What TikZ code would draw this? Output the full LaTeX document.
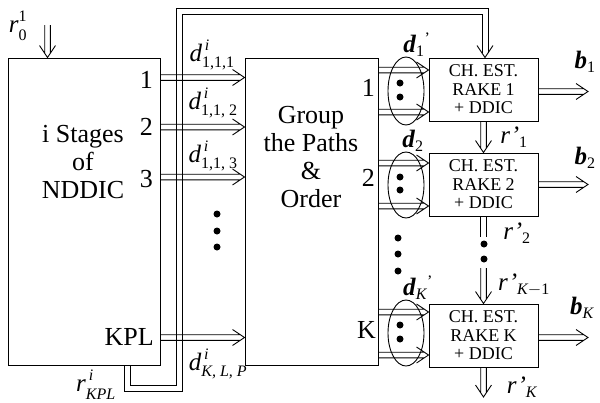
\documentclass[tikz,border=0pt]{standalone}
\usepackage{amsmath}
\usepackage{fontspec}
\setmainfont{Liberation Serif}
\usetikzlibrary{calc}
\DeclareMathSizes{25}{25}{16}{12}
\def\dd{2.8}\def\al{12}\def\aw{8}\def\sh{4.2}
\newcommand\harr[2]{%
  \draw[ln] ($#1+(0,-\dd)$) -- ($#2+(-\sh,-\dd)$)
            ($#1+(0,\dd)$) -- ($#2+(-\sh,\dd)$)
            ($#2+(-\al,-\aw)$) -- #2 -- ($#2+(-\al,\aw)$);}
\newcommand\varr[2]{%
  \draw[ln] ($#1+(-\dd,0)$) -- ($#2+(-\dd,-\sh)$)
            ($#1+(\dd,0)$) -- ($#2+(\dd,-\sh)$)
            ($#2+(-\aw,-\al)$) -- #2 -- ($#2+(\aw,-\al)$);}
\newcommand\vdbl[2]{%
  \draw[ln] ($#1+(-\dd,0)$) -- ($#2+(-\dd,0)$)
            ($#1+(\dd,0)$) -- ($#2+(\dd,0)$);}
\newcommand\up[1]{\text{\raisebox{2pt}{#1}}}
\newcommand\dn[1]{\text{\raisebox{-2pt}{#1}}}
\begin{document}
\begin{tikzpicture}[x=1pt,y=-1pt,
  ln/.style={line width=0.9pt},
  box/.style={draw, line width=0.9pt, inner sep=0pt},
  big/.style={font=\fontsize{26}{28}\selectfont, inner sep=0pt, align=center},
  small/.style={font=\fontsize{18}{18.5}\selectfont, align=center},
  lab/.style={font=\fontsize{25}{27}\selectfont, inner sep=0pt},
  dot/.style={fill=black}]
\useasboundingbox (0,0) rectangle (600,402);

% boxes
\node[box, minimum width=152pt, minimum height=307pt] (L) at (84,211.5) {};
\node[big] (Ltxt) at (83,162) {i Stages\\of\\NDDIC};
\node[box, minimum width=133pt, minimum height=307pt] (M) at (311.5,211.5) {};
\node[big] (Mtxt) at (311,157) {Group\\the Paths\\\&\\Order};
\node[box, small, minimum width=109pt, minimum height=63pt] (R1) at (483.5,89.5) {CH. EST.\\RAKE 1\\+ DDIC};
\node[box, small, minimum width=109pt, minimum height=63pt] (R2) at (483.5,184.5) {CH. EST.\\RAKE 2\\+ DDIC};
\node[box, small, minimum width=109pt, minimum height=63pt] (RK) at (483.5,335.5) {CH. EST.\\RAKE K\\+ DDIC};

% port numbers
\node[big, anchor=east] (n1) at (153,80) {1};
\node[big, anchor=east] (n2) at (153,127) {2};
\node[big, anchor=east] (n3) at (153,179) {3};
\node[big, anchor=east] (nK) at (154,337) {KPL};
\node[big, anchor=east] (m1) at (375,88) {1};
\node[big, anchor=east] (m2) at (375,178) {2};
\node[big, anchor=east] (mK) at (376,330) {K};

% feedback loop (two parallel lines)
\coordinate (c1) at (127,388);
\coordinate (c2) at (179,388);
\coordinate (c3) at (179,11);
\coordinate (c4) at (485,11);
\coordinate (tip) at (R1.north -| c4);
\draw[ln] ($(L.south -| c1)+(-3,0)$) -- ($(c1)+(-3,3)$) -- ($(c2)+(3,3)$) -- ($(c3)+(3,3)$) -- ($(c4)+(-3,3)$) -- ($(tip)+(-3,-4.5)$);
\draw[ln] ($(L.south -| c1)+(3,0)$) -- ($(c1)+(3,-3)$) -- ($(c2)+(-3,-3)$) -- ($(c3)+(-3,-3)$) -- ($(c4)+(3,-3)$) -- ($(tip)+(3,-4.5)$);
\draw[ln] ($(tip)+(-8,-12)$) -- (tip) -- ($(tip)+(8,-12)$);

% input arrow
\coordinate (r0s) at (47.5,25);
\varr{(r0s)}{(L.north -| r0s)}

% L -> M
\coordinate (y1) at (0,77.5);
\coordinate (y2) at (0,127);
\coordinate (y3) at (0,177);
\coordinate (yK) at (0,337.5);
\harr{(L.east |- y1)}{(M.west |- y1)}
\harr{(L.east |- y2)}{(M.west |- y2)}
\harr{(L.east |- y3)}{(M.west |- y3)}
\harr{(L.east |- yK)}{(M.west |- yK)}

% M -> RAKE
\coordinate (g1a) at (0,70);
\coordinate (g1b) at (0,112);
\coordinate (g2a) at (0,163);
\coordinate (g2b) at (0,206);
\coordinate (gKa) at (0,312);
\coordinate (gKb) at (0,355);
\harr{(M.east |- g1a)}{(R1.west |- g1a)}
\harr{(M.east |- g1b)}{(R1.west |- g1b)}
\harr{(M.east |- g2a)}{(R2.west |- g2a)}
\harr{(M.east |- g2b)}{(R2.west |- g2b)}
\harr{(M.east |- gKa)}{(RK.west |- gKa)}
\harr{(M.east |- gKb)}{(RK.west |- gKb)}

\draw[ln] (406,91) ellipse [x radius=18pt, y radius=34pt];
\draw[ln] (406,185) ellipse [x radius=18pt, y radius=33pt];
\draw[ln] (406,333) ellipse [x radius=18pt, y radius=33pt];

% outputs
\coordinate (ob1) at (588,91.5);
\coordinate (ob2) at (588,184.5);
\coordinate (obK) at (588,337.5);
\harr{(R1.east |- ob1)}{(ob1)}
\harr{(R2.east |- ob2)}{(ob2)}
\harr{(RK.east |- obK)}{(obK)}

% vertical chain
\varr{(R1.south)}{(R2.north)}
\coordinate (vd) at (483.5,237);
\vdbl{(R2.south)}{(vd)}
\coordinate (vs) at (483.5,268);
\varr{(vs)}{(RK.north)}
\coordinate (rKe) at (483.5,397);
\varr{(RK.south)}{(rKe)}

% dots
\foreach \p in {(217,214),(217,231),(217,247),
                (400,83),(400,97),(400,177),(400,190),(400,325),(400,339),
                (398,238),(398,254),(398,271),
                (484,244),(484,259)}
  \fill[dot] \p circle [radius=3.5pt];

% labels
\node[lab] (lr0) at (18,26) {$\textit{r}^{\up{1}}_{\dn{0}}$};
\node[lab] (ld1) at (212,55) {$\textit{d}^{\,\textit{i}}_{\text{1,1,1}}$};
\node[lab] (ld2) at (213,103) {$\textit{d}^{\,\textit{i}}_{\text{1,1, 2}}$};
\node[lab] (ld3) at (213,156) {$\textit{d}^{\,\textit{i}}_{\text{1,1, 3}}$};
\node[lab] (ldK) at (218,364) {$\textit{d}^{\,\textit{i}}_{\textit{K, L, P}}$};
\node[lab] (lrK) at (96,385) {$\textit{r}^{\,\up{\textit{i}}}_{\dn{\textit{KPL}}}$};
\node[lab] (lp1) at (417,45) {$\textbf{\textit{d}}_{\text{1}}{}^{\text{'}}$};
\node[lab] (lp2) at (413,141) {$\textbf{\textit{d}}_{\text{2}}$};
\node[lab] (lpK) at (418,288) {$\textbf{\textit{d}}_{\textit{K}}{}^{\text{'}}$};
\node[lab] (lb1) at (585,62) {$\textbf{\textit{b}}_{\text{1}}$};
\node[lab] (lb2) at (585,158) {$\textbf{\textit{b}}_{\text{2}}$};
\node[lab] (lbK) at (582,308) {$\textbf{\textit{b}}_{\textit{K}}$};
\node[lab] (lq1) at (514,137) {$\textit{r'}_{\text{1}}$};
\node[lab] (lq2) at (517,233) {$\textit{r'}_{\text{2}}$};
\node[lab] (lqK1) at (524,285) {$\textit{r'}_{\textit{K}-\text{1}}$};
\node[lab] (lqK) at (522,387) {$\textit{r'}_{\textit{K}}$};
\end{tikzpicture}
\end{document}
